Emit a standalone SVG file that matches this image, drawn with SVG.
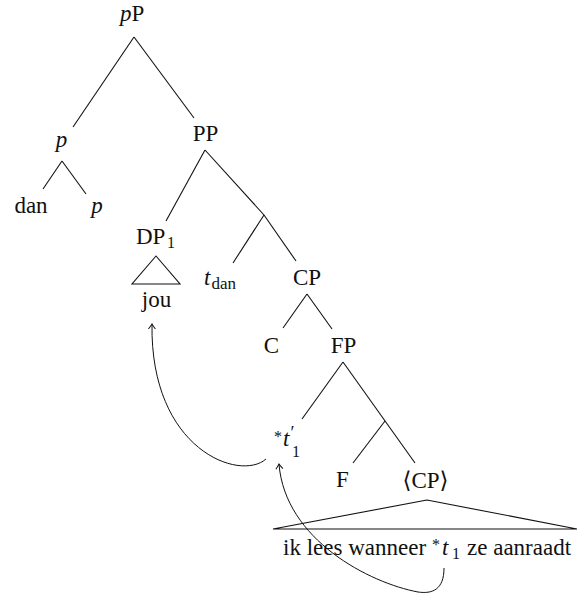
<svg xmlns="http://www.w3.org/2000/svg" width="578" height="596" viewBox="0 0 578 596">
<style>
  text { font-family: "Liberation Serif", "DejaVu Serif", serif; font-size: 23px; fill: #111; }
  .it { font-style: italic; }
  .sub { font-size: 16px; }
  .mid { text-anchor: middle; }
  .edge { stroke: #111; stroke-width: 1.1; fill: none; }
  .move { stroke: #111; stroke-width: 1; fill: none; marker-end: url(#head); }
</style>
<defs>
  <marker id="head" markerUnits="userSpaceOnUse" markerWidth="12" markerHeight="12" refX="0" refY="0" viewBox="-7 -6 9 12" orient="auto">
    <path d="M -5,-3.5 Q -1.5,-0.8 0,0 Q -1.5,0.8 -5,3.5" fill="none" stroke="#111" stroke-width="1"/>
  </marker>
</defs>
<rect width="578" height="596" fill="#fff"/>

<g id="connectors">
  <line class="edge" x1="134" y1="37" x2="73" y2="127"/>
  <line class="edge" x1="134" y1="37" x2="194" y2="118"/>
  <line class="edge" x1="62" y1="161" x2="43" y2="189"/>
  <line class="edge" x1="62" y1="161" x2="86" y2="194"/>
  <line class="edge" x1="205" y1="150" x2="166" y2="221"/>
  <line class="edge" x1="205" y1="150" x2="264" y2="215"/>
  <line class="edge" x1="264" y1="215" x2="233" y2="263"/>
  <line class="edge" x1="264" y1="215" x2="296" y2="261"/>
  <line class="edge" x1="307" y1="294" x2="283" y2="328"/>
  <line class="edge" x1="307" y1="294" x2="332" y2="329"/>
  <line class="edge" x1="343" y1="362" x2="302" y2="419"/>
  <line class="edge" x1="343" y1="362" x2="415" y2="463"/>
  <line class="edge" x1="385" y1="421" x2="353" y2="463"/>
  <path class="move" d="M 266,459 C 240,482 150,450 152,324"/>
  <path class="move" d="M 444,568 C 444,590 432,594 418,592 C 370,583 285,540 279,464"/>
</g>

<g id="node-pP">
  <text x="120" y="21"><tspan class="it">p</tspan><tspan x="131.5">P</tspan></text>
</g>
<g id="node-p">
  <text class="it mid" x="61.5" y="147">p</text>
</g>
<g id="node-PP">
  <text class="mid" x="205.5" y="141">PP</text>
</g>
<g id="node-dan">
  <text class="mid" x="31" y="213">dan</text>
</g>
<g id="node-p2">
  <text class="it mid" x="97" y="213">p</text>
</g>
<g id="node-DP1">
  <text x="136" y="244">DP<tspan class="sub" x="167" y="248">1</tspan></text>
  <polygon class="edge" points="156,256 132,284 180,284"/>
  <text class="mid" x="156.5" y="307">jou</text>
</g>
<g id="node-tdan">
  <text x="204" y="285"><tspan class="it">t</tspan><tspan class="sub" x="211.5" y="289" style="font-size:17px">dan</tspan></text>
</g>
<g id="node-CP">
  <text class="mid" x="307" y="285">CP</text>
</g>
<g id="node-C">
  <text class="mid" x="271.5" y="353">C</text>
</g>
<g id="node-FP">
  <text class="mid" x="343.5" y="353">FP</text>
</g>
<g id="node-t1prime">
  <text x="274" y="442" class="sub">*</text>
  <text x="283" y="446" class="it">t</text>
  <text x="290.5" y="439" style="font-size:18px">′</text>
  <text x="292" y="457" class="sub">1</text>
</g>
<g id="node-F">
  <text class="mid" x="342.5" y="487">F</text>
</g>
<g id="node-CP2">
  <text class="mid" x="425.5" y="488">⟨CP⟩</text>
  <polygon class="edge" points="427,500 273,529 577,529"/>
  <text x="283" y="555">ik lees wanneer</text>
  <text x="432" y="550" class="sub">*</text>
  <text x="442" y="555" class="it">t</text>
  <text x="452" y="559" class="sub">1</text>
  <text x="467" y="555">ze aanraadt</text>
</g>
</svg>
